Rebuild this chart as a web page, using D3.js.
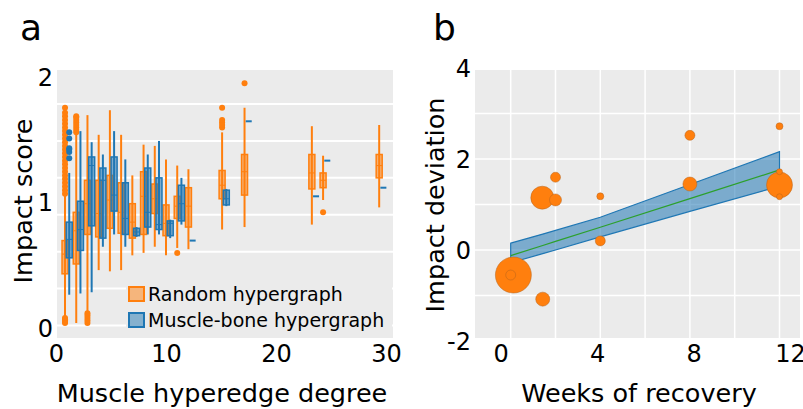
<!DOCTYPE html>
<html>
<head>
<meta charset="utf-8">
<script src="https://cdn.jsdelivr.net/npm/d3@7"></script>
<style>
  body { margin: 0; background: #fff; }
  text { font-family: "DejaVu Sans", sans-serif; fill: #000; }
</style>
</head>
<body>
<svg id="chart" width="803" height="409"></svg>
<script>
// panel a: box plots per muscle hyperedge degree
const degrees = [1, 2, 3, 4, 5, 6, 7, 8, 9, 10, 11, 12, 15, 17, 23, 24, 29];

const randomLo  = [0.02, 0.00, 0.01, 0.43, 0.42, 0.43, 0.55, 0.57, 0.62, 0.55, 0.61, 0.60, 0.76, 0.78, 0.80, 1.00, 0.94];
const randomQ1  = [0.40, 0.48, 0.72, 0.70, 0.77, 0.73, 0.69, 0.72, 0.89, 0.71, 0.85, 0.78, 1.01, 1.04, 1.09, 1.10, 1.18];
const randomMed = [0.56, 0.75, 0.97, 0.89, 1.00, 0.90, 0.82, 1.03, 1.01, 0.81, 0.95, 0.95, 1.12, 1.23, 1.22, 1.16, 1.28];
const randomQ3  = [0.67, 0.90, 1.16, 1.16, 1.20, 1.14, 0.97, 1.23, 1.13, 0.96, 1.03, 1.10, 1.24, 1.37, 1.37, 1.22, 1.37];
const randomHi  = [1.04, 1.53, 1.69, 1.53, 1.73, 1.53, 1.20, 1.45, 1.44, 1.33, 1.28, 1.25, 1.55, 1.75, 1.60, 1.36, 1.61];
const randomOut = [
  [0.00, 0.01, 0.02, 0.03, 0.04, 1.05, 1.08, 1.11, 1.14, 1.17, 1.20, 1.23, 1.26, 1.29, 1.32, 1.35, 1.38,
   1.41, 1.44, 1.47, 1.50, 1.53, 1.56, 1.59, 1.62, 1.65, 1.68, 1.71, 1.75],
  [1.55, 1.57, 1.59, 1.61, 1.63, 1.65, 1.67, 1.68],
  [0.00, 0.02, 0.04, 0.06, 0.08],
  [], [], [], [], [], [], [],
  [0.57],
  [],
  [1.59, 1.61, 1.63, 1.65, 1.75],
  [1.95],
  [],
  [0.90],
  []
];

const boneLo  = [0.23, 0.24, 0.25, 0.62, 0.72, 0.62, 0.70, 0.72, 0.72, 0.69, 0.80, 0.67, 0.95, 1.64, 1.03, 1.32, 1.10];
const boneQ1  = [0.53, 0.59, 0.79, 0.69, 0.91, 0.72, 0.71, 0.78, 0.76, 0.71, 0.83, 0.67, 0.96, 1.64, 1.03, 1.32, 1.10];
const boneMed = [0.68, 0.76, 1.28, 1.16, 1.04, 0.85, 0.74, 0.90, 0.80, 0.81, 0.97, 0.67, 1.01, 1.64, 1.03, 1.32, 1.10];
const boneQ3  = [0.82, 0.99, 1.35, 1.26, 1.35, 1.14, 0.77, 1.26, 1.18, 0.83, 1.12, 0.67, 1.08, 1.64, 1.03, 1.32, 1.10];
const boneHi  = [1.22, 1.56, 1.47, 1.37, 1.56, 1.33, 0.78, 1.37, 1.48, 0.84, 1.18, 0.67, 1.09, 1.64, 1.03, 1.32, 1.10];
const boneOut = [
  [1.34, 1.39, 1.41, 1.42, 1.50, 1.55],
  [], [], [], [], [], [], [], [], [], [], [], [], [], [], [], []
];

const aGrid = [-0.02, 0.28, 0.58, 0.88, 1.18, 1.48, 1.78];
const aXTicks = [0, 10, 20, 30];
const aYTicks = [0, 1, 2];
const legendLabels = ["Random hypergraph", "Muscle-bone hypergraph"];

// panel b: impact deviation vs weeks of recovery
const weeks     = [0.12, 0.0, 1.43, 1.41, 2.0, 2.0, 4.0, 4.0, 8.0, 8.0, 12.0, 12.0, 12.0, 12.0];
const deviation = [-0.55, -0.55, -1.08, 1.15, 1.10, 1.60, 1.18, 0.20, 2.52, 1.45, 1.43, 2.72, 1.72, 1.17];
const weight    = [18, 5, 7, 11.5, 6, 5, 3.5, 5, 5, 7, 13, 3.5, 3, 3];

const fitWeeks = [0, 1.43, 2, 4, 8, 12];
const fitMid   = [-0.125, 0.10, 0.19, 0.50, 1.13, 1.76];
const fitUpper = [0.15, 0.35, 0.43, 0.72, 1.44, 2.16];
const fitLower = [-0.28, -0.08, 0.00, 0.29, 0.85, 1.40];

const bXGrid = [0, 2, 4, 6, 8, 10, 12];
const bYGrid = [-1, 0, 1, 2, 3];
const bXTicks = [0, 4, 8, 12];
const bYTicks = [-2, 0, 2, 4];

const ORANGE = "#ff7f0e";
const BLUE = "#1f77b4";
const BG = "#ebebeb";

const svg = d3.select("#chart");

// ---------- panel a ----------
const ax = d3.scaleLinear().domain([0, 30]).range([55.9, 392.5]);
const ay = d3.scaleLinear().domain([0, 2]).range([323, 77]);
const axLab = d3.scaleLinear().domain([0, 30]).range([56, 386]);
const ayLab = d3.scaleLinear().domain([0, 2]).range([328, 77]);

const pa = { left: 57, right: 393, top: 70, bottom: 338 };
const ga = svg.append("g");

ga.append("rect")
  .attr("x", pa.left).attr("y", pa.top)
  .attr("width", pa.right - pa.left).attr("height", pa.bottom - pa.top)
  .attr("fill", BG);

ga.selectAll("line.grid")
  .data(aGrid)
  .join("line")
  .attr("class", "grid")
  .attr("x1", pa.left).attr("x2", pa.right)
  .attr("y1", d => ay(d)).attr("y2", d => ay(d))
  .attr("stroke", "#fff").attr("stroke-width", 2);

function drawBoxes(g, lo, q1, med, q3, hi, out, color, dx) {
  const grp = g.append("g");
  degrees.forEach((d, i) => {
    const cx = ax(d) + dx;
    const single = lo[i] === hi[i];
    if (!single) {
      grp.append("line")
        .attr("x1", cx).attr("x2", cx)
        .attr("y1", ay(lo[i])).attr("y2", ay(hi[i]))
        .attr("stroke", color).attr("stroke-width", 2);
    }
    const top = ay(q3[i]);
    const h = Math.max(2, ay(q1[i]) - top);
    grp.append("rect")
      .attr("x", cx - 3).attr("y", single ? top - 1 : top)
      .attr("width", 6).attr("height", h)
      .attr("fill", color).attr("fill-opacity", single ? 1 : 0.55)
      .attr("stroke", color).attr("stroke-width", single ? 0 : 1.5);
    if (!single) {
      grp.append("line")
        .attr("x1", cx - 3).attr("x2", cx + 3)
        .attr("y1", ay(med[i])).attr("y2", ay(med[i]))
        .attr("stroke", color).attr("stroke-width", 1);
    }
    grp.selectAll(null)
      .data(out[i])
      .join("circle")
      .attr("cx", cx).attr("cy", v => ay(v))
      .attr("r", 3)
      .attr("fill", color);
  });
}

drawBoxes(ga, randomLo, randomQ1, randomMed, randomQ3, randomHi, randomOut, ORANGE, -2.1);
drawBoxes(ga, boneLo, boneQ1, boneMed, boneQ3, boneHi, boneOut, BLUE, 2.1);

// legend
const lg = ga.append("g");
lg.append("rect")
  .attr("x", 126).attr("y", 282).attr("width", 266).attr("height", 50)
  .attr("fill", BG);
lg.selectAll("rect.key")
  .data(legendLabels)
  .join("rect")
  .attr("class", "key")
  .attr("x", 129).attr("y", (d, i) => 287 + i * 26)
  .attr("width", 15).attr("height", 14)
  .attr("fill", (d, i) => i === 0 ? ORANGE : BLUE)
  .attr("fill-opacity", 0.5)
  .attr("stroke", (d, i) => i === 0 ? ORANGE : BLUE)
  .attr("stroke-width", 2);
lg.selectAll("text")
  .data(legendLabels)
  .join("text")
  .attr("x", 148).attr("y", (d, i) => 294 + i * 26)
  .attr("dominant-baseline", "central")
  .style("font-size", "19px")
  .text(d => d);

// axes a
const axisAX = svg.append("g")
  .attr("transform", "translate(0,345)")
  .call(d3.axisBottom(axLab).tickValues(aXTicks).tickFormat(d => String(d)).tickSize(0).tickPadding(0));
const axisAY = svg.append("g")
  .attr("transform", "translate(53,0)")
  .call(d3.axisLeft(ayLab).tickValues(aYTicks).tickFormat(d => String(d)).tickSize(0).tickPadding(0));

// ---------- panel b ----------
const bx = d3.scaleLinear().domain([0, 12]).range([510.7, 779.5]);
const by = d3.scaleLinear().domain([-2, 4]).range([341, 68]);
const bxLab = d3.scaleLinear().domain([0, 12]).range([500.7, 790]);

const pb = { left: 475, right: 800, top: 70, bottom: 338 };
const gb = svg.append("g");

gb.append("rect")
  .attr("x", pb.left).attr("y", pb.top)
  .attr("width", pb.right - pb.left).attr("height", pb.bottom - pb.top)
  .attr("fill", BG);

gb.selectAll("line.vgrid")
  .data(bXGrid)
  .join("line")
  .attr("class", "vgrid")
  .attr("x1", d => bx(d)).attr("x2", d => bx(d))
  .attr("y1", pb.top).attr("y2", pb.bottom)
  .attr("stroke", "#fff").attr("stroke-width", 1.5);
gb.selectAll("line.hgrid")
  .data(bYGrid)
  .join("line")
  .attr("class", "hgrid")
  .attr("x1", pb.left).attr("x2", pb.right)
  .attr("y1", d => by(d)).attr("y2", d => by(d))
  .attr("stroke", "#fff").attr("stroke-width", 1.5);

const band = d3.area()
  .x((d, i) => bx(fitWeeks[i]))
  .y0((d, i) => by(fitLower[i]))
  .y1((d, i) => by(fitUpper[i]));
gb.append("path")
  .datum(fitWeeks)
  .attr("d", band)
  .attr("fill", BLUE).attr("fill-opacity", 0.55)
  .attr("stroke", BLUE).attr("stroke-width", 1.2);

gb.append("path")
  .datum(fitWeeks)
  .attr("d", d3.line().x((d, i) => bx(fitWeeks[i])).y((d, i) => by(fitMid[i])))
  .attr("fill", "none")
  .attr("stroke", "#2ca02c").attr("stroke-width", 1.2);

gb.selectAll("circle")
  .data(weeks.map((w, i) => ({ w, v: deviation[i], r: weight[i] })))
  .join("circle")
  .attr("cx", d => bx(d.w)).attr("cy", d => by(d.v))
  .attr("r", d => d.r)
  .attr("fill", ORANGE)
  .attr("stroke", "#b4641e").attr("stroke-opacity", 0.6).attr("stroke-width", 0.8);

const axisBX = svg.append("g")
  .attr("transform", "translate(0,345)")
  .call(d3.axisBottom(bxLab).tickValues(bXTicks).tickFormat(d => String(d)).tickSize(0).tickPadding(0));
const axisBY = svg.append("g")
  .attr("transform", "translate(471,0)")
  .call(d3.axisLeft(by).tickValues(bYTicks).tickFormat(d => String(d)).tickSize(0).tickPadding(0));

[axisAX, axisAY, axisBX, axisBY].forEach(a => {
  a.select(".domain").remove();
  a.selectAll("text")
    .style("font-size", "24px")
    .style("font-family", "DejaVu Sans, sans-serif")
    .attr("fill", "#000");
});
[axisAX, axisBX].forEach(a => a.selectAll("text").attr("dy", "0.71em").attr("y", 0));
[axisAY, axisBY].forEach(a => a.selectAll("text").attr("dy", "0.35em"));

// titles
svg.append("text").attr("x", 222).attr("y", 402)
  .attr("text-anchor", "middle").style("font-size", "25.5px")
  .text("Muscle hyperedge degree");
svg.append("text").attr("x", 639).attr("y", 402)
  .attr("text-anchor", "middle").style("font-size", "25.5px")
  .text("Weeks of recovery");
svg.append("text")
  .attr("transform", "translate(32,201) rotate(-90)")
  .attr("text-anchor", "middle").style("font-size", "25.5px")
  .text("Impact score");
svg.append("text")
  .attr("transform", "translate(444,205) rotate(-90)")
  .attr("text-anchor", "middle").style("font-size", "25.5px")
  .text("Impact deviation");

svg.append("text").attr("x", 20).attr("y", 40).style("font-size", "36px").text("a");
svg.append("text").attr("x", 433).attr("y", 40).style("font-size", "36px").text("b");
</script>
</body>
</html>
